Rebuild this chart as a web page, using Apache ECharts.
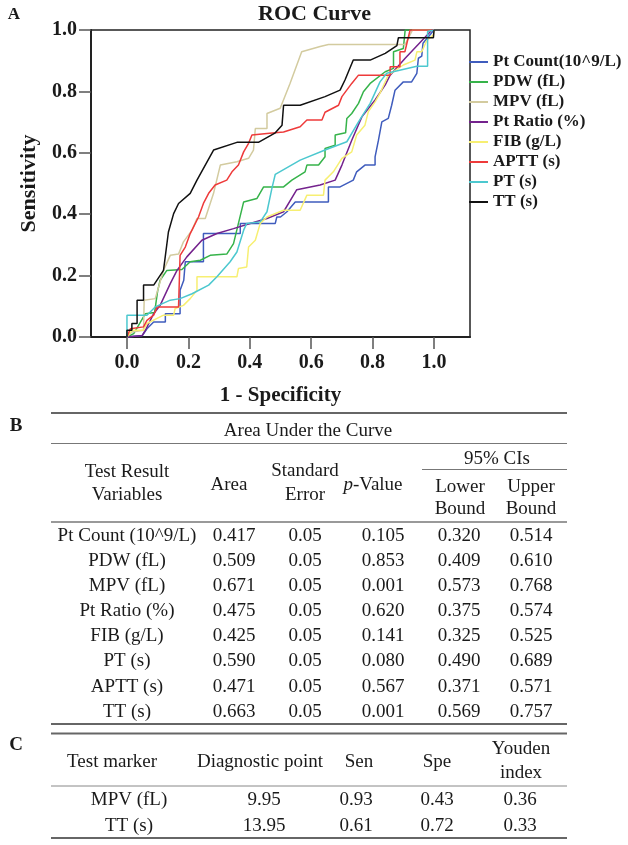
<!DOCTYPE html>
<html>
<head>
<meta charset="utf-8">
<script src="https://cdn.jsdelivr.net/npm/echarts@6/dist/echarts.min.js"></script>
<style>
  html, body { margin: 0; padding: 0; background: #fff; }
  #main { width: 628px; height: 845px; }
</style>
</head>
<body>
<div id="main"></div>
<script>
// ROC curves, [1 - specificity, sensitivity]
var seriesNames = ['Pt Count(10^9/L)', 'PDW (fL)', 'MPV (fL)', 'Pt Ratio (%)', 'FIB (g/L)', 'APTT (s)', 'PT (s)', 'TT (s)'];
var seriesColors = ['#3f5cbd', '#36b34a', '#d3cb9f', '#74228d', '#f7ef72', '#ee3a3a', '#4cc8cf', '#111111'];

var ptCount = [[0,0],[0.05,0.005],[0.065,0.027],[0.087,0.049],[0.125,0.049],[0.125,0.076],[0.173,0.076],[0.173,0.152],[0.185,0.185],[0.19,0.245],[0.249,0.245],[0.249,0.337],[0.369,0.337],[0.369,0.37],[0.483,0.37],[0.488,0.391],[0.5,0.391],[0.521,0.408],[0.548,0.44],[0.656,0.44],[0.656,0.489],[0.694,0.489],[0.737,0.511],[0.748,0.538],[0.775,0.56],[0.808,0.56],[0.808,0.587],[0.819,0.641],[0.83,0.701],[0.851,0.712],[0.862,0.755],[0.873,0.804],[0.9,0.831],[0.927,0.831],[0.944,0.859],[0.949,0.908],[0.96,0.915],[0.964,0.957],[1,1]];
var pdw = [[0,0],[0.022,0.011],[0.06,0.076],[0.09,0.08],[0.1,0.15],[0.108,0.185],[0.13,0.217],[0.179,0.22],[0.206,0.245],[0.239,0.25],[0.271,0.266],[0.325,0.27],[0.347,0.304],[0.363,0.37],[0.38,0.44],[0.423,0.451],[0.445,0.489],[0.51,0.489],[0.537,0.511],[0.58,0.538],[0.586,0.56],[0.624,0.56],[0.645,0.587],[0.645,0.614],[0.678,0.625],[0.678,0.658],[0.712,0.665],[0.716,0.712],[0.732,0.728],[0.754,0.761],[0.77,0.799],[0.792,0.826],[0.841,0.864],[0.868,0.875],[0.868,0.929],[0.9,0.94],[0.906,1],[1,1]];
var mpv = [[0,0],[0.016,0.016],[0.054,0.022],[0.056,0.12],[0.092,0.125],[0.119,0.217],[0.141,0.266],[0.168,0.27],[0.184,0.31],[0.212,0.348],[0.228,0.386],[0.255,0.386],[0.282,0.468],[0.304,0.56],[0.358,0.571],[0.396,0.582],[0.412,0.609],[0.418,0.679],[0.456,0.679],[0.456,0.728],[0.499,0.745],[0.531,0.826],[0.569,0.929],[0.629,0.946],[0.656,0.953],[0.906,0.953],[0.93,1],[1,1]];
var ptRatio = [[0,0],[0.05,0.005],[0.06,0.022],[0.087,0.076],[0.108,0.103],[0.141,0.174],[0.163,0.217],[0.195,0.261],[0.244,0.315],[0.293,0.337],[0.347,0.353],[0.401,0.37],[0.456,0.386],[0.51,0.408],[0.553,0.48],[0.629,0.495],[0.678,0.511],[0.7,0.56],[0.732,0.641],[0.765,0.717],[0.808,0.772],[0.841,0.821],[0.857,0.853],[0.906,0.908],[0.993,1],[1,1]];
var fib = [[0,0],[0.005,0],[0.016,0.022],[0.054,0.022],[0.065,0.044],[0.119,0.071],[0.152,0.071],[0.157,0.093],[0.184,0.103],[0.206,0.125],[0.228,0.152],[0.228,0.196],[0.358,0.196],[0.363,0.223],[0.39,0.228],[0.396,0.293],[0.418,0.315],[0.434,0.37],[0.456,0.391],[0.51,0.413],[0.564,0.413],[0.586,0.462],[0.64,0.462],[0.645,0.511],[0.672,0.538],[0.7,0.582],[0.732,0.603],[0.748,0.658],[0.775,0.69],[0.786,0.734],[0.808,0.766],[0.824,0.794],[0.851,0.853],[0.9,0.886],[0.938,0.902],[0.944,0.929],[0.96,0.929],[0.976,0.965],[0.998,0.984],[1,1]];
var aptt = [[0,0],[0,0.005],[0.011,0.027],[0.054,0.033],[0.065,0.054],[0.087,0.071],[0.098,0.098],[0.168,0.098],[0.173,0.266],[0.19,0.293],[0.206,0.337],[0.233,0.391],[0.249,0.435],[0.266,0.468],[0.287,0.495],[0.325,0.511],[0.342,0.538],[0.363,0.56],[0.38,0.603],[0.396,0.631],[0.407,0.658],[0.456,0.663],[0.51,0.668],[0.564,0.685],[0.586,0.707],[0.635,0.707],[0.645,0.732],[0.689,0.755],[0.7,0.783],[0.732,0.826],[0.754,0.853],[0.857,0.853],[0.857,0.88],[0.889,0.88],[0.889,0.929],[0.905,0.929],[0.922,1],[1,1]];
var pt = [[0,0],[0,0.071],[0.065,0.071],[0.092,0.098],[0.141,0.12],[0.173,0.125],[0.212,0.141],[0.266,0.169],[0.293,0.196],[0.336,0.245],[0.358,0.277],[0.38,0.348],[0.39,0.37],[0.434,0.375],[0.456,0.408],[0.472,0.484],[0.483,0.53],[0.564,0.576],[0.645,0.609],[0.716,0.636],[0.754,0.701],[0.792,0.761],[0.824,0.831],[0.846,0.859],[0.944,0.882],[0.979,0.882],[0.979,0.995],[1,1]];
var tt = [[0,0],[0,0.022],[0.016,0.022],[0.016,0.044],[0.033,0.044],[0.033,0.12],[0.054,0.12],[0.054,0.169],[0.087,0.169],[0.119,0.217],[0.135,0.342],[0.152,0.402],[0.168,0.435],[0.206,0.468],[0.228,0.511],[0.282,0.609],[0.358,0.634],[0.428,0.634],[0.483,0.665],[0.505,0.69],[0.51,0.755],[0.564,0.755],[0.645,0.783],[0.694,0.804],[0.71,0.837],[0.737,0.902],[0.792,0.902],[0.841,0.924],[0.879,0.949],[0.884,0.975],[0.998,0.975],[1,1]];
var curves = [ptCount, pdw, mpv, ptRatio, fib, aptt, pt, tt];
var axisTicks = [0, 0.2, 0.4, 0.6, 0.8, 1.0];

// table B: Area Under the Curve
var aucNames = ['Pt Count (10^9/L)', 'PDW (fL)', 'MPV (fL)', 'Pt Ratio (%)', 'FIB (g/L)', 'PT (s)', 'APTT (s)', 'TT (s)'];
var aucArea = ['0.417', '0.509', '0.671', '0.475', '0.425', '0.590', '0.471', '0.663'];
var aucSE = ['0.05', '0.05', '0.05', '0.05', '0.05', '0.05', '0.05', '0.05'];
var aucP = ['0.105', '0.853', '0.001', '0.620', '0.141', '0.080', '0.567', '0.001'];
var aucLower = ['0.320', '0.409', '0.573', '0.375', '0.325', '0.490', '0.371', '0.569'];
var aucUpper = ['0.514', '0.610', '0.768', '0.574', '0.525', '0.689', '0.571', '0.757'];

// table C: diagnostic points
var cutNames = ['MPV (fL)', 'TT (s)'];
var cutPoint = ['9.95', '13.95'];
var cutSen = ['0.93', '0.61'];
var cutSpe = ['0.43', '0.72'];
var cutYouden = ['0.36', '0.33'];

var SERIF = '"Liberation Serif", "Times New Roman", serif';
var INK = '#1a1a1a';

function txt(s, x, y, opts) {
  opts = opts || {};
  return {
    type: 'text', x: x, y: y, silent: true,
    style: {
      text: s, fill: INK, align: opts.align || 'center', verticalAlign: 'middle',
      font: (opts.bold ? 'bold ' : '') + (opts.size || 19) + 'px ' + SERIF,
      rich: opts.rich
    }
  };
}
function hline(x1, x2, y, w, c) {
  return { type: 'line', silent: true, shape: { x1: x1, y1: y, x2: x2, y2: y },
    style: { stroke: c || '#555', lineWidth: w || 1 } };
}

var g = [];
g.push(txt('A', 14, 15, { bold: true, size: 17 }));

// ---- table B
var L = 51, R = 567;
g.push(txt('B', 16, 426, { bold: true, size: 19 }));
g.push(hline(L, R, 413, 2, '#666'));
g.push(txt('Area Under the Curve', 308, 431));
g.push(hline(L, R, 443.5, 1, '#777'));
g.push(txt('95% CIs', 497, 459));
g.push(hline(422, R, 469.5, 1, '#777'));
g.push(txt('Test Result', 127, 472));
g.push(txt('Variables', 127, 495));
g.push(txt('Area', 229, 485));
g.push(txt('Standard', 305, 471));
g.push(txt('Error', 305, 495));
g.push(txt('{i|p}-Value', 373, 485, { rich: { i: { fontStyle: 'italic', fontSize: 19, fontFamily: SERIF, fill: INK } } }));
g.push(txt('Lower', 460, 487));
g.push(txt('Bound', 460, 509));
g.push(txt('Upper', 531, 487));
g.push(txt('Bound', 531, 509));
g.push(hline(L, R, 522, 1.5, '#777'));
var colX = [127, 234, 305, 383, 459, 531];
for (var i = 0; i < aucNames.length; i++) {
  var y = 536 + i * 25.1;
  var row = [aucNames[i], aucArea[i], aucSE[i], aucP[i], aucLower[i], aucUpper[i]];
  for (var j = 0; j < row.length; j++) g.push(txt(row[j], colX[j], y));
}
g.push(hline(L, R, 724, 2, '#666'));

// ---- table C
g.push(txt('C', 16, 745, { bold: true, size: 19 }));
g.push(hline(L, R, 733.5, 2, '#666'));
g.push(txt('Test marker', 112, 762));
g.push(txt('Diagnostic point', 260, 762));
g.push(txt('Sen', 359, 762));
g.push(txt('Spe', 437, 762));
g.push(txt('Youden', 521, 749));
g.push(txt('index', 521, 773));
g.push(hline(L, R, 786, 1, '#888'));
var cX = [129, 264, 356, 437, 520];
for (var k = 0; k < cutNames.length; k++) {
  var yy = 800 + k * 25.7;
  var r2 = [cutNames[k], cutPoint[k], cutSen[k], cutSpe[k], cutYouden[k]];
  for (var m = 0; m < r2.length; m++) g.push(txt(r2[m], cX[m], yy));
}
g.push(hline(L, R, 838, 2, '#666'));

var chart = echarts.init(document.getElementById('main'), null, { renderer: 'canvas' });
chart.setOption({
  backgroundColor: '#fff',
  animation: false,
  title: {
    text: 'ROC Curve', left: 258, top: 3, padding: 0,
    textStyle: { fontFamily: SERIF, fontWeight: 'bold', fontSize: 22, color: INK }
  },
  legend: {
    data: seriesNames, orient: 'vertical', left: 469, top: 52, padding: 0,
    itemWidth: 19, itemHeight: 2, itemGap: 0, icon: 'rect',
    textStyle: { fontFamily: SERIF, fontWeight: 'bold', fontSize: 17, color: INK, lineHeight: 20 }
  },
  grid: { left: 91, top: 30, width: 379, height: 307, show: true, borderColor: '#222', borderWidth: 1.5 },
  xAxis: {
    type: 'value', min: -0.1171, max: 1.1171,
    name: '1 - Specificity', nameLocation: 'middle', nameGap: 48,
    nameTextStyle: { fontFamily: SERIF, fontWeight: 'bold', fontSize: 21, color: INK },
    axisLine: { show: true, onZero: false, lineStyle: { color: '#222', width: 2 } },
    axisTick: { show: true, length: 12, customValues: axisTicks, lineStyle: { color: '#555', width: 1.5 } },
    axisLabel: { customValues: axisTicks, margin: 16, formatter: function (v) { return v.toFixed(1); },
      fontFamily: SERIF, fontWeight: 'bold', fontSize: 20, color: INK },
    splitLine: { show: false }
  },
  yAxis: {
    type: 'value', min: 0, max: 1, interval: 0.2,
    name: 'Sensitivity', nameLocation: 'middle', nameGap: 51, nameRotate: 90,
    nameTextStyle: { fontFamily: SERIF, fontWeight: 'bold', fontSize: 22, color: INK },
    axisLine: { show: true, onZero: false, lineStyle: { color: '#222', width: 2 } },
    axisTick: { show: true, length: 12, lineStyle: { color: '#555', width: 1.5 } },
    axisLabel: { margin: 14, formatter: function (v) { return v.toFixed(1); },
      fontFamily: SERIF, fontWeight: 'bold', fontSize: 20, color: INK },
    splitLine: { show: false }
  },
  series: seriesNames.map(function (n, i) {
    return {
      name: n, type: 'line', data: curves[i], symbol: 'none', clip: true,
      color: seriesColors[i], lineStyle: { color: seriesColors[i], width: 1.5 }
    };
  }),
  graphic: g
});
</script>
</body>
</html>
